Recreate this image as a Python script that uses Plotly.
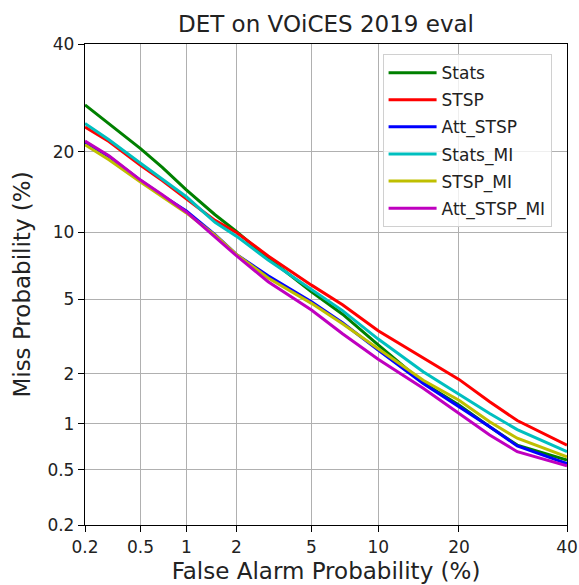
from statistics import NormalDist
import plotly.graph_objects as go

# DET curves: false alarm rate (%) vs miss rate (%) for each system
fa_pct = [0.2, 0.3, 0.5, 0.7, 1, 1.5, 2, 3, 5, 7, 10, 15, 20, 25, 30, 40]

stats = [27.9, 24.6, 20.5, 17.7, 14.7, 11.8, 10.1, 7.75, 5.42, 4.2, 2.9,
         1.78, 1.31, 0.96, 0.73, 0.58]
stsp = [24.0, 21.6, 18.0, 15.9, 13.6, 11.2, 10.0, 7.93, 5.83, 4.68, 3.45,
        2.45, 1.86, 1.37, 1.05, 0.73]
att_stsp = [21.5, 19.3, 15.9, 14.0, 12.2, 9.8, 8.05, 6.45, 4.85, 3.8, 2.72,
            1.76, 1.28, 0.96, 0.72, 0.55]
stats_mi = [24.6, 21.9, 18.3, 16.1, 13.85, 11.0, 9.65, 7.6, 5.57, 4.38, 3.12,
            2.06, 1.52, 1.16, 0.92, 0.66]
stsp_mi = [21.1, 18.8, 15.7, 13.9, 12.0, 9.75, 8.05, 6.3, 4.76, 3.75, 2.76,
           1.84, 1.40, 1.03, 0.81, 0.61]
att_stsp_mi = [21.7, 19.4, 15.96, 14.1, 12.1, 9.55, 7.95, 6.05, 4.41, 3.33, 2.42,
               1.65, 1.16, 0.85, 0.66, 0.53]

series_names = ["Stats", "STSP", "Att_STSP", "Stats_MI", "STSP_MI", "Att_STSP_MI"]
series_vals = [stats, stsp, att_stsp, stats_mi, stsp_mi, att_stsp_mi]
series_colors = ["#008000", "#ff0000", "#0000ff", "#00bfbf", "#bfbf00", "#bf00bf"]

tick_pct = [0.2, 0.5, 1, 2, 5, 10, 20, 40]
tick_text = ["0.2", "0.5", "1", "2", "5", "10", "20", "40"]

nd = NormalDist()


def probit(pct):
    return nd.inv_cdf(pct / 100.0)


fig = go.Figure()
for i, (name, vals, col) in enumerate(zip(series_names, series_vals, series_colors)):
    fig.add_trace(go.Scatter(
        x=[probit(v) for v in fa_pct],
        y=[probit(v) for v in vals],
        mode="lines",
        name=name,
        legendgroup=f"g{i}",
        line=dict(color=col, width=3),
    ))

rng = [probit(tick_pct[0]), probit(tick_pct[-1])]
tickvals = [probit(v) for v in tick_pct]

axis_common = dict(
    range=rng,
    tickvals=tickvals,
    ticktext=tick_text,
    showgrid=True,
    gridcolor="#b0b0b0",
    gridwidth=1,
    showline=True,
    linecolor="black",
    linewidth=1.3,
    mirror=True,
    ticks="outside",
    ticklen=6,
    tickcolor="black",
    tickfont=dict(family="DejaVu Sans", size=17, color="#222"),
    zeroline=False,
    automargin=False,
)

fig.update_layout(
    width=579,
    height=585,
    margin=dict(l=85, r=12, t=44, b=60, autoexpand=False),
    paper_bgcolor="white",
    plot_bgcolor="white",
    font=dict(family="DejaVu Sans", color="#222"),
    title=dict(
        text="DET on VOiCES 2019 eval",
        x=0.5, xref="paper", xanchor="center",
        y=1 - 24 / 585, yref="container", yanchor="middle",
        font=dict(size=23, color="#222"),
    ),
    xaxis=dict(axis_common, title=dict(text="False Alarm Probability (%)",
                                       font=dict(size=23), standoff=7)),
    yaxis=dict(axis_common, title=dict(text="Miss Probability (%)",
                                       font=dict(size=23), standoff=10)),
    legend=dict(
        x=0.968, y=0.979, xanchor="right", yanchor="top",
        bgcolor="rgba(255,255,255,0.8)",
        bordercolor="#d0d0d0", borderwidth=1,
        font=dict(size=17, color="#222"),
        traceorder="grouped",
        tracegroupgap=2,
        itemwidth=48,
    ),
)

fig.write_html("out.html")
